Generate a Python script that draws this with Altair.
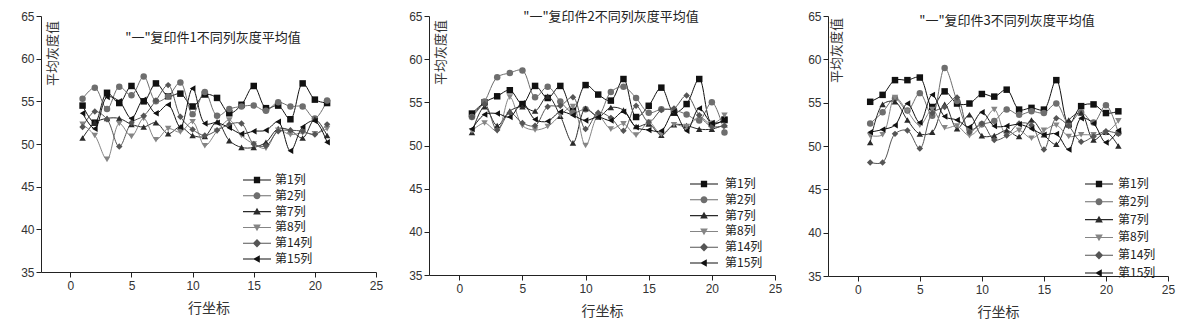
import altair as alt
import pandas as pd

rows = list(range(1, 22))
series = ["第1列", "第2列", "第7列", "第8列", "第14列", "第15列"]
titles = ['"一"复印件1不同列灰度平均值', '"一"复印件2不同列灰度平均值', '"一"复印件3不同列灰度平均值']
y_title = "平均灰度值"
x_title = "行坐标"

# Panel 1
p1_c1 = [54.5, 52.5, 56.0, 54.8, 56.8, 55.0, 57.1, 55.6, 55.9, 54.4, 55.8, 55.4, 53.6, 54.6, 56.8, 54.2, 54.5, 52.9, 57.1, 55.2, 54.8]
p1_c2 = [55.3, 56.6, 54.1, 56.7, 55.7, 57.9, 55.0, 55.6, 57.2, 53.5, 56.1, 53.3, 54.1, 54.4, 54.5, 53.9, 54.9, 54.4, 54.4, 53.0, 55.1]
p1_c7 = [50.7, 52.5, 53.0, 53.0, 52.3, 52.0, 52.5, 51.2, 52.0, 51.0, 50.9, 52.6, 50.4, 49.6, 49.6, 50.2, 51.8, 51.6, 50.7, 52.9, 51.0]
p1_c8 = [52.3, 51.0, 48.2, 52.4, 50.9, 53.0, 50.5, 51.8, 51.4, 52.6, 49.8, 51.5, 52.8, 51.0, 50.0, 49.5, 51.6, 51.1, 51.3, 51.2, 51.8]
p1_c14 = [52.0, 53.8, 52.9, 49.7, 52.5, 53.3, 55.1, 56.9, 53.2, 51.7, 51.0, 51.6, 52.3, 52.4, 50.0, 49.8, 51.5, 51.6, 51.5, 51.1, 52.3]
p1_c15 = [53.6, 51.8, 55.5, 55.0, 53.0, 55.2, 53.6, 54.6, 52.0, 56.5, 52.4, 52.5, 51.9, 51.2, 51.5, 51.6, 52.6, 49.2, 52.0, 52.7, 50.2]

# Panel 2
p2_c1 = [53.7, 55.0, 55.7, 56.4, 54.8, 56.9, 55.5, 56.9, 54.0, 57.0, 55.9, 55.2, 57.7, 53.3, 54.6, 56.7, 53.8, 54.8, 57.7, 52.5, 53.0]
p2_c2 = [53.3, 55.1, 57.9, 58.4, 58.7, 55.6, 56.8, 55.1, 53.8, 54.2, 53.5, 56.2, 56.8, 55.5, 53.8, 54.2, 54.1, 53.6, 52.9, 55.0, 51.5]
p2_c7 = [51.5, 54.5, 52.3, 54.0, 54.5, 54.0, 55.7, 53.4, 50.3, 54.3, 53.3, 54.4, 54.1, 52.2, 52.5, 51.2, 52.4, 52.3, 51.9, 51.9, 52.4]
p2_c8 = [51.7, 52.6, 51.7, 55.6, 52.3, 51.8, 52.2, 53.5, 54.5, 50.0, 53.4, 51.9, 52.5, 51.2, 52.7, 51.3, 52.4, 52.2, 53.3, 52.5, 53.5]
p2_c14 = [53.3, 54.8, 51.8, 53.8, 52.6, 52.3, 54.5, 54.6, 55.6, 51.9, 53.8, 53.2, 51.7, 54.6, 52.7, 54.1, 54.3, 55.8, 53.5, 52.2, 52.3]
p2_c15 = [51.9, 53.6, 53.7, 53.3, 54.9, 53.0, 52.8, 53.9, 53.5, 52.9, 53.3, 52.9, 53.9, 52.1, 51.8, 51.7, 53.9, 51.7, 54.3, 52.6, 52.9]

# Panel 3
p3_c1 = [55.1, 55.9, 57.6, 57.6, 57.9, 54.5, 56.3, 54.9, 54.9, 56.0, 55.7, 56.5, 54.2, 54.4, 54.2, 57.6, 52.5, 54.6, 54.8, 53.8, 54.0]
p3_c2 = [52.6, 53.9, 55.5, 54.1, 56.1, 53.5, 59.0, 55.2, 51.9, 52.5, 52.9, 54.2, 53.6, 54.0, 53.8, 54.9, 52.6, 53.9, 52.7, 54.7, 51.5]
p3_c7 = [50.4, 54.8, 55.1, 53.0, 51.4, 51.6, 54.8, 52.0, 53.6, 51.2, 51.2, 51.8, 51.1, 53.0, 51.3, 50.2, 53.0, 53.8, 50.7, 51.6, 50.0]
p3_c8 = [51.2, 51.3, 55.6, 54.0, 52.4, 54.2, 52.1, 52.3, 51.2, 52.4, 54.2, 51.2, 51.8, 50.9, 51.8, 52.4, 51.1, 51.3, 51.3, 51.5, 52.9]
p3_c14 = [48.1, 48.1, 51.4, 51.8, 49.7, 53.8, 54.5, 55.6, 51.6, 52.6, 50.7, 51.2, 52.6, 52.4, 49.6, 53.2, 52.3, 50.5, 51.1, 51.7, 51.4]
p3_c15 = [51.6, 51.9, 52.4, 54.9, 52.7, 55.9, 53.4, 53.0, 52.2, 53.9, 52.3, 52.3, 52.5, 52.0, 51.3, 51.4, 49.6, 53.2, 52.6, 50.4, 51.8]

panels = [
    [p1_c1, p1_c2, p1_c7, p1_c8, p1_c14, p1_c15],
    [p2_c1, p2_c2, p2_c7, p2_c8, p2_c14, p2_c15],
    [p3_c1, p3_c2, p3_c7, p3_c8, p3_c14, p3_c15],
]

colors = ["#111111", "#6e6e6e", "#2a2a2a", "#858585", "#555555", "#111111"]
shapes = ["square", "circle", "triangle-up", "triangle-down", "diamond", "triangle-left"]
# legend glyphs: a thin bar (line) plus the marker, all wound clockwise
BAR = "M-2,-0.075H2V0.075H-2Z"
legend_paths = [
    BAR + "M-0.45,-0.45H0.45V0.45H-0.45Z",
    BAR + "M-0.5,0A0.5,0.5 0 1,1 0.5,0A0.5,0.5 0 1,1 -0.5,0Z",
    BAR + "M0,-0.55L0.55,0.4H-0.55Z",
    BAR + "M0,0.55L-0.55,-0.4H0.55Z",
    BAR + "M0,-0.6L0.6,0L0,0.6L-0.6,0Z",
    BAR + "M-0.55,0L0.4,-0.55V0.55Z",
]

CJK = "Noto Sans CJK SC"
LAT = "Liberation Sans"

layouts = [
    dict(w=335, h=256, tx=172, ty=22, ytx=11, yty=37, lx=209, ly=157, rp=2.8, lo=11),
    dict(w=346, h=259, tx=182, ty=1, ytx=11, yty=36, lx=268, ly=161, rp=2.8, lo=14),
    dict(w=340, h=260, tx=179, ty=5, ytx=8, yty=34, lx=264, ly=161, rp=4.8, lo=12),
]

major_test = "datum.value % 5 === 0"


def make_panel(i):
    lay = layouts[i]
    recs = []
    for s, vals in zip(series, panels[i]):
        for r, v in zip(rows, vals):
            recs.append({"row": r, "val": v, "col": s, "leg": s})
    df = pd.DataFrame(recs)

    xs = alt.Scale(domain=[-2.4, 25], nice=False, zero=False)
    ys = alt.Scale(domain=[35, 65], nice=False, zero=False)
    xaxis = alt.Axis(
        title=x_title, values=[x * 2.5 for x in range(0, 11)],
        labelExpr="datum.value % 5 === 0 ? datum.label : ''",
        tickSize={"condition": {"test": major_test, "value": 5}, "value": 3},
        grid=False, labelFlush=False, labelFont=LAT, labelFontSize=12, labelColor="#333",
        titleFont=CJK, titleFontSize=14, titleFontWeight="normal", titleColor="#333",
        titlePadding=10, domainColor="#222", tickColor="#222", labelPadding=3,
    )
    yaxis = alt.Axis(
        title=y_title, values=[35 + k * 2.5 for k in range(0, 13)],
        labelExpr="datum.value % 5 === 0 ? datum.label : ''",
        tickSize={"condition": {"test": major_test, "value": 5}, "value": 3},
        grid=False, labelFont=LAT, labelFontSize=12, labelColor="#333",
        titleFont=CJK, titleFontSize=13, titleFontWeight="normal", titleColor="#333",
        titleX=lay["ytx"], titleY=lay["yty"], titleAngle=-90, titleAlign="center",
        titleBaseline="middle", domainColor="#222", tickColor="#222", labelPadding=2,
    )
    cscale = alt.Scale(domain=series, range=colors)
    sscale = alt.Scale(domain=series, range=shapes)
    lscale = alt.Scale(domain=series, range=legend_paths)

    base = alt.Chart(df)
    lines = base.mark_line(interpolate="catmull-rom", strokeWidth=1).encode(
        x=alt.X("row:Q", scale=xs, axis=xaxis),
        y=alt.Y("val:Q", scale=ys, axis=yaxis),
        color=alt.Color("col:N", scale=cscale, legend=None),
        detail="col:N",
    )
    pts = base.mark_point(filled=True, size=42, opacity=1).encode(
        x=alt.X("row:Q", scale=xs),
        y=alt.Y("val:Q", scale=ys),
        color=alt.Color("col:N", scale=cscale, legend=None),
        shape=alt.Shape("col:N", scale=sscale, legend=None),
    )
    leg = alt.Legend(
        title=None, orient="none", legendX=lay["lx"], legendY=lay["ly"],
        symbolSize=196, rowPadding=lay["rp"], labelOffset=lay["lo"],
        labelFont=CJK, labelFontSize=12, labelColor="#222", padding=0,
        symbolStrokeWidth=0, symbolOpacity=1,
    )
    legend_layer = base.transform_filter("datum.row < 0").mark_point(
        filled=True, opacity=1
    ).encode(
        x=alt.X("row:Q", scale=xs),
        y=alt.Y("val:Q", scale=ys),
        color=alt.Color("leg:N", scale=cscale, legend=leg),
        shape=alt.Shape("leg:N", scale=lscale, legend=leg),
    )
    title = alt.Chart(pd.DataFrame({"t": [titles[i]]})).mark_text(
        font=CJK, fontSize=13, color="#222", align="center", baseline="middle"
    ).encode(x=alt.value(lay["tx"]), y=alt.value(lay["ty"]), text="t:N")

    return alt.layer(lines, pts, legend_layer, title).resolve_scale(
        shape="independent", color="independent"
    ).properties(width=lay["w"], height=lay["h"])


chart = alt.hconcat(make_panel(0), make_panel(1), make_panel(2), spacing=25).resolve_scale(
    color="independent", shape="independent", x="independent", y="independent"
).resolve_legend(shape="independent", color="independent").properties(
    padding={"left": 20, "top": 10, "right": 5, "bottom": 5}, background="white"
).configure_view(stroke=None)

chart.save("out.html", embed_options={"renderer": "svg", "actions": False})
